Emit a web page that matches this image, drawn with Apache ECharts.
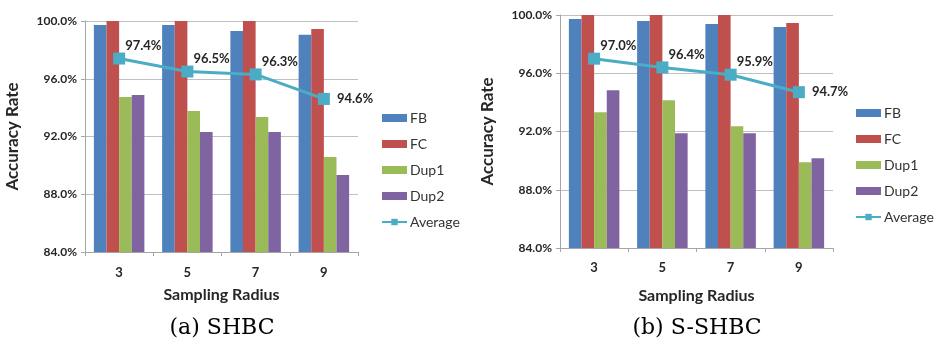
<!DOCTYPE html>
<html><head><meta charset="utf-8">
<script src="https://cdn.jsdelivr.net/npm/echarts@6/dist/echarts.min.js"></script>
<style>html,body{margin:0;padding:0;background:#fff}#c{width:936px;height:342px}</style>
</head><body><div id="c"></div>
<script>
const categories = ['3', '5', '7', '9'];
const seriesNames = ['FB', 'FC', 'Dup1', 'Dup2', 'Average'];
// (a) SHBC
const fbA = [99.72, 99.72, 99.31, 99.05];
const fcA = [100, 100, 100, 99.45];
const dup1A = [94.73, 93.76, 93.35, 90.58];
const dup2A = [94.87, 92.31, 92.31, 89.33];
const avgA = [97.4, 96.5, 96.3, 94.6];
// (b) S-SHBC
const fbB = [99.72, 99.59, 99.38, 99.17];
const fcB = [100, 100, 100, 99.45];
const dup1B = [93.33, 94.15, 92.36, 89.89];
const dup2B = [94.84, 91.88, 91.88, 90.16];
const avgB = [97.0, 96.4, 95.9, 94.7];
const yTicks = [84, 88, 92, 96, 100];
const captions = ['(a) SHBC', '(b) S-SHBC'];

const colors = ['#4F81BD', '#C0504D', '#9BBB59', '#8064A2', '#4BACC6'];
const FONT = 'Lato';

const chart = echarts.init(document.getElementById('c'), null, {renderer: 'canvas'});

const grids = [
  {left: 85, right: 936 - 358, top: 21, bottom: 342 - 252},
  {left: 560, right: 936 - 833, top: 15, bottom: 342 - 248}
];

function xAxisFor(i, nameGap, labelMargin) {
  return {
    type: 'category', gridIndex: i, data: categories,
    boundaryGap: true,
    axisLine: {lineStyle: {color: '#A6A6A6', width: 1}},
    axisTick: {show: true, length: 4, lineStyle: {color: '#A6A6A6'}},
    axisLabel: {fontFamily: FONT, fontWeight: 'bold', fontSize: 13, color: '#262626', margin: labelMargin},
    name: 'Sampling Radius', nameLocation: 'middle', nameGap: nameGap,
    nameTextStyle: {fontFamily: FONT, fontWeight: 'bold', fontSize: 16, color: '#262626'}
  };
}
function yAxisFor(i, nameGap) {
  return {
    type: 'value', gridIndex: i, min: yTicks[0], max: yTicks[yTicks.length - 1], interval: yTicks[1] - yTicks[0],
    axisLine: {show: true, lineStyle: {color: '#A6A6A6', width: 1}},
    axisTick: {show: true, length: 4, lineStyle: {color: '#A6A6A6'}},
    splitLine: {show: true, lineStyle: {color: '#BFBFBF', width: 1}},
    axisLabel: {fontFamily: FONT, fontWeight: 'bold', fontSize: 12, color: '#262626', margin: 8,
      formatter: v => v.toFixed(1) + '%'},
    name: 'Accuracy Rate', nameLocation: 'middle', nameGap: nameGap,
    nameTextStyle: {fontFamily: FONT, fontWeight: 'bold', fontSize: 17, color: '#262626'}
  };
}

function seriesFor(i, fb, fc, d1, d2, avg) {
  const bars = [fb, fc, d1, d2].map((d, k) => ({
    type: 'bar', name: seriesNames[k], xAxisIndex: i, yAxisIndex: i, data: d,
    barGap: '0%', barCategoryGap: '26%',
    itemStyle: {color: colors[k]}, z: 2
  }));
  const line = {
    type: 'line', name: 'Average', xAxisIndex: i, yAxisIndex: i,
    data: avg.map((v, j) => ({
      value: v,
      label: j === avg.length - 1 ? {position: 'right', offset: [2, 0]} : {position: 'right', offset: [-5, -13]}
    })),
    symbol: 'rect', symbolSize: 12,
    lineStyle: {color: colors[4], width: 3},
    itemStyle: {color: colors[4]},
    label: {show: true, fontFamily: FONT, fontWeight: 'bold', fontSize: 13, color: '#262626',
      formatter: p => p.value.toFixed(1) + '%'},
    z: 5
  };
  return bars.concat([line]);
}

function legendFor(left, top) {
  return {
    orient: 'vertical', left: left, top: top,
    itemWidth: 25, itemHeight: 8, itemGap: 12,
    textStyle: {fontFamily: FONT, fontSize: 14, color: '#333333', padding: [0, 0, 0, -2]},
    data: seriesNames.map((n, k) => k < 4 ? {name: n, icon: 'rect'} : {name: n}),
    selectedMode: false
  };
}

chart.setOption({
  animation: false,
  grid: grids,
  xAxis: [xAxisFor(0, 35, 14), xAxisFor(1, 40, 13)],
  yAxis: [yAxisFor(0, 64), yAxisFor(1, 64)],
  legend: [legendFor(376, 106), legendFor(850, 101)],
  series: seriesFor(0, fbA, fcA, dup1A, dup2A, avgA).concat(seriesFor(1, fbB, fcB, dup1B, dup2B, avgB)),
  graphic: [
    {type: 'text', x: 222, y: 328, style: {text: captions[0], font: '22px "DejaVu Serif"', fill: '#000', align: 'center', verticalAlign: 'middle'}},
    {type: 'text', x: 697, y: 328, style: {text: captions[1], font: '22px "DejaVu Serif"', fill: '#000', align: 'center', verticalAlign: 'middle'}}
  ]
});
</script>
</body></html>
